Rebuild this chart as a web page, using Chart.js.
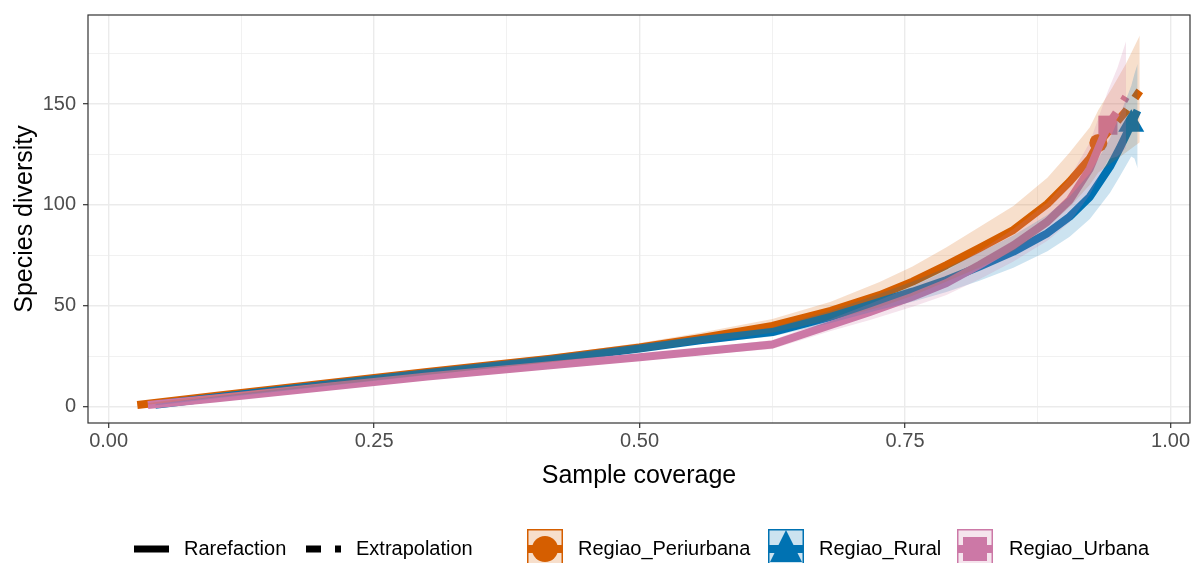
<!DOCTYPE html>
<html>
<head>
<meta charset="utf-8">
<script src="https://cdn.jsdelivr.net/npm/chart.js@4.4.1/dist/chart.umd.min.js"></script>
<style>
  html, body { margin: 0; padding: 0; background: #fff; }
  canvas { display: block; }
</style>
</head>
<body>
<canvas id="coverage" width="1193" height="563"></canvas>
<script>
const FONT = '"Liberation Sans", Arial, sans-serif';

// Regiao_Periurbana: coverage, estimate and 95% band (observed sample at index 17)
const periCov = [0.027, 0.10, 0.20, 0.30, 0.416, 0.50, 0.557, 0.625, 0.68, 0.726, 0.757, 0.789, 0.82, 0.852, 0.884, 0.905, 0.924, 0.932, 0.945, 0.958, 0.971];
const periEst = [0.8, 5.3, 11.2, 17.2, 23.8, 29.3, 34, 40, 47.5, 55.3, 62, 70.2, 78.6, 87.6, 100.5, 111.5, 123, 130.7, 138.5, 146.5, 156.5];
const periHi  = [1.1, 6, 12.3, 18.6, 25.6, 31.6, 36.6, 43.4, 52, 61.8, 69.5, 79, 89, 99.5, 113.5, 126, 138.5, 147, 158, 170, 184];
const periLo  = [0.5, 4.6, 10.1, 15.8, 22, 27, 31.4, 36.6, 43, 49.3, 55, 62, 69, 77, 89, 99, 110, 116, 121, 126, 131];
const periObs = 17;

// Regiao_Rural (observed sample at index 19)
const ruralCov = [0.044, 0.10, 0.20, 0.30, 0.416, 0.50, 0.557, 0.625, 0.68, 0.726, 0.757, 0.789, 0.82, 0.852, 0.884, 0.905, 0.924, 0.943, 0.952, 0.963, 0.966, 0.969];
const ruralEst = [1, 4.6, 10.6, 16.6, 23.3, 28.8, 32.9, 37, 44.5, 52, 57, 62.8, 69.4, 76.8, 86, 94.2, 104, 119, 128, 140, 143.5, 147];
const ruralHi  = [1.3, 5.1, 11.3, 17.5, 24.4, 30.2, 34.6, 39.2, 47.5, 56, 62, 68.8, 76.4, 84.8, 95, 104.2, 115.5, 133, 144, 159, 165, 170];
const ruralLo  = [0.7, 4.1, 9.9, 15.7, 22.2, 27.4, 31.2, 34.8, 41.5, 48, 52, 56.8, 62.4, 68.8, 77, 84.2, 93, 106, 114, 124, 123, 118];
const ruralObs = 19;

// Regiao_Urbana (observed sample at index 17)
const urbCov = [0.037, 0.10, 0.20, 0.30, 0.416, 0.50, 0.557, 0.625, 0.68, 0.717, 0.757, 0.789, 0.82, 0.852, 0.884, 0.905, 0.924, 0.941, 0.950, 0.958];
const urbEst = [0.8, 4.1, 9.5, 15, 20.5, 24.5, 27.3, 30.8, 40.5, 47, 54.5, 61.3, 70.2, 80, 91.7, 102.4, 118, 139.5, 146.5, 153.5];
const urbHi  = [1.1, 4.6, 10.2, 15.9, 21.6, 25.9, 29, 33, 43.5, 51, 59.5, 67.3, 77.2, 88, 101.2, 113.4, 131, 156.5, 168, 181];
const urbLo  = [0.5, 3.6, 8.8, 14.1, 19.4, 23.1, 25.6, 28.6, 37.5, 43, 49.5, 55.3, 63.2, 72, 82.2, 91.4, 105, 122.5, 124, 128];
const urbObs = 17;

const regionNames = ['Regiao_Periurbana', 'Regiao_Rural', 'Regiao_Urbana'];
const regionColors = ['#D55E00', '#0072B2', '#CC79A7'];
const regionFills = ['rgba(213,94,0,0.2)', 'rgba(0,114,178,0.2)', 'rgba(204,121,167,0.2)'];
const methodNames = ['Rarefaction', 'Extrapolation'];

const xTickValues = [0, 0.25, 0.5, 0.75, 1];
const yTickValues = [0, 50, 100, 150];

function pts(cov, est, from, to) {
    const out = [];
    for (let i = from; i <= to; i++) out.push({ x: cov[i], y: est[i] });
    return out;
}

function isMajor(list, v) {
    return list.some(t => Math.abs(t - v) < 1e-6);
}

// one region -> [lower band, upper band, rarefaction line, extrapolation line, observed point]
function regionDatasets(k, cov, est, lo, hi, obs, shape, radius) {
    const col = regionColors[k];
    const z = 2 - k; // later regions drawn on top
    return [
        { label: regionNames[k] + ' lo', data: pts(cov, lo, 0, cov.length - 1), borderWidth: 0, pointRadius: 0, fill: false, order: z },
        { label: regionNames[k] + ' hi', data: pts(cov, hi, 0, cov.length - 1), borderWidth: 0, pointRadius: 0, fill: '-1', backgroundColor: regionFills[k], order: z },
        { label: regionNames[k] + ' ' + methodNames[0], data: pts(cov, est, 0, obs), borderColor: col, borderWidth: 8, pointRadius: 0, borderJoinStyle: 'round', fill: false, order: 3 + z },
        { label: regionNames[k] + ' ' + methodNames[1], data: pts(cov, est, obs, cov.length - 1), borderColor: col, borderWidth: 8, borderDash: [15, 14], pointRadius: 0, fill: false, order: 3 + z },
        { label: regionNames[k], data: pts(cov, est, obs, obs), showLine: false, pointStyle: shape, pointRadius: radius, pointBackgroundColor: col, pointBorderWidth: 0, order: 6 + z }
    ];
}

const datasets = [].concat(
    regionDatasets(0, periCov, periEst, periLo, periHi, periObs, 'circle', 9),
    regionDatasets(1, ruralCov, ruralEst, ruralLo, ruralHi, ruralObs, 'triangle', 15),
    regionDatasets(2, urbCov, urbEst, urbLo, urbHi, urbObs, 'rect', 13.5)
);

// panel border on top of the data
const panelBorder = {
    id: 'panelBorder',
    afterDatasetsDraw(chart) {
        const { ctx, chartArea: a } = chart;
        ctx.save();
        ctx.strokeStyle = '#333333';
        ctx.lineWidth = 1.2;
        ctx.strokeRect(a.left, a.top, a.right - a.left, a.bottom - a.top);
        ctx.restore();
    }
};

// bottom legend: linetype keys then region keys
const bottomLegend = {
    id: 'bottomLegend',
    afterDraw(chart) {
        const ctx = chart.ctx;
        const cy = 549;
        ctx.save();
        ctx.font = '20px ' + FONT;
        ctx.fillStyle = '#000';
        ctx.textBaseline = 'middle';

        ctx.strokeStyle = '#000';
        ctx.lineWidth = 7;
        ctx.lineCap = 'butt';
        ctx.beginPath(); ctx.moveTo(134, cy); ctx.lineTo(169, cy); ctx.stroke();
        ctx.fillText(methodNames[0], 184, cy);

        ctx.setLineDash([15, 14]);
        ctx.beginPath(); ctx.moveTo(306, cy); ctx.lineTo(341, cy); ctx.stroke();
        ctx.setLineDash([]);
        ctx.fillText(methodNames[1], 356, cy);

        const keyX = [527, 768, 957];
        const textX = [578, 819, 1009];
        const s = 36;
        for (let k = 0; k < 3; k++) {
            const x0 = keyX[k], y0 = cy - s / 2 - 2, cx = x0 + s / 2;
            ctx.strokeStyle = regionColors[k];
            ctx.fillStyle = regionColors[k];
            ctx.lineWidth = 8;
            ctx.beginPath(); ctx.moveTo(x0, cy); ctx.lineTo(x0 + s, cy); ctx.stroke();
            ctx.beginPath();
            if (k === 0) {
                ctx.arc(cx, cy, 13, 0, Math.PI * 2);
            } else if (k === 1) {
                ctx.moveTo(cx, y0 + 1); ctx.lineTo(cx + 16, y0 + s - 3); ctx.lineTo(cx - 16, y0 + s - 3); ctx.closePath();
            } else {
                ctx.rect(cx - 12, cy - 12, 24, 24);
            }
            ctx.fill();
            ctx.fillStyle = regionFills[k];
            ctx.fillRect(x0, y0, s, s);
            ctx.lineWidth = 1.5;
            ctx.strokeRect(x0 + 0.75, y0 + 0.75, s - 1.5, s - 1.5);
            ctx.fillStyle = '#000';
            ctx.fillText(regionNames[k], textX[k], cy);
        }
        ctx.restore();
    }
};

new Chart(document.getElementById('coverage'), {
    type: 'line',
    data: { datasets: datasets },
    options: {
        responsive: false,
        animation: false,
        layout: { autoPadding: false, padding: { left: 0, right: 3, top: 15, bottom: 72 } },
        plugins: { legend: { display: false }, tooltip: { enabled: false } },
        scales: {
            x: {
                type: 'linear',
                min: -0.0194,
                max: 1.0183,
                afterFit(scale) { scale.height = 68; },
                border: { display: false },
                grid: {
                    color: '#EBEBEB',
                    lineWidth: c => isMajor(xTickValues, c.tick.value) ? 1.4 : 0.7,
                    tickColor: c => isMajor(xTickValues, c.tick.value) ? '#333333' : 'rgba(0,0,0,0)',
                    tickLength: 5,
                    tickWidth: 1.2
                },
                ticks: {
                    stepSize: 0.125,
                    includeBounds: false,
                    autoSkip: false,
                    maxRotation: 0,
                    padding: 1,
                    color: '#4D4D4D',
                    font: { family: FONT, size: 20 },
                    callback: v => isMajor(xTickValues, v) ? v.toFixed(2) : ''
                },
                title: {
                    display: true,
                    text: 'Sample coverage',
                    color: '#000',
                    font: { family: FONT, size: 25 },
                    padding: { top: 0, bottom: 0 }
                }
            },
            y: {
                type: 'linear',
                min: -8.08,
                max: 194.1,
                afterFit(scale) {
                    scale.width = 88;
                    // keep the panel top fixed regardless of the top label's overhang
                    scale.paddingTop = 0;
                    scale.paddingBottom = 0;
                },
                border: { display: false },
                grid: {
                    color: '#EBEBEB',
                    lineWidth: c => isMajor(yTickValues, c.tick.value) ? 1.4 : 0.7,
                    tickColor: c => isMajor(yTickValues, c.tick.value) ? '#333333' : 'rgba(0,0,0,0)',
                    tickLength: 5,
                    tickWidth: 1.2
                },
                ticks: {
                    stepSize: 25,
                    includeBounds: false,
                    autoSkip: false,
                    padding: 7,
                    color: '#4D4D4D',
                    font: { family: FONT, size: 20 },
                    callback: v => isMajor(yTickValues, v) ? String(v) : ''
                },
                title: {
                    display: true,
                    text: 'Species diversity',
                    color: '#000',
                    font: { family: FONT, size: 25 },
                    padding: { top: 10, bottom: 0 }
                }
            }
        }
    },
    plugins: [panelBorder, bottomLegend]
});
</script>
</body>
</html>
